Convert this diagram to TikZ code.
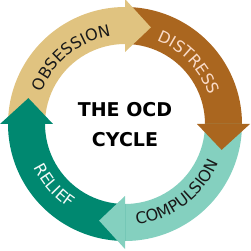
\documentclass[tikz,border=0pt]{standalone}
\usepackage{fontspec}
\setmainfont{DejaVu Sans}
\usetikzlibrary{decorations.text}
\definecolor{obscol}{HTML}{E0C380}
\definecolor{discol}{HTML}{AA661F}
\definecolor{comcol}{HTML}{84D0BF}
\definecolor{relcol}{HTML}{008870}
\definecolor{distxt}{HTML}{FADBC8}
\definecolor{reltxt}{HTML}{F2FAF7}
\begin{document}
\begin{tikzpicture}[x=1pt,y=1pt,
  centertext/.style={font=\fontsize{19}{19}\selectfont\bfseries,text=black,inner sep=0pt}]
\useasboundingbox (-125,-127) rectangle (125,124);
% bands
\fill[obscol] (180:117) arc[start angle=180,end angle=89.5,radius=117] -- (89.5:80) arc[start angle=89.5,end angle=180,radius=80] -- cycle;
\fill[discol] (90:117) arc[start angle=90,end angle=-0.5,radius=117] -- (-0.5:80) arc[start angle=-0.5,end angle=90,radius=80] -- cycle;
\fill[comcol] (0:117) arc[start angle=0,end angle=-90.5,radius=117] -- (-90.5:80) arc[start angle=-90.5,end angle=0,radius=80] -- cycle;
\fill[relcol] (-90:117) arc[start angle=-90,end angle=-180.5,radius=117] -- (-180.5:80) arc[start angle=-180.5,end angle=-90,radius=80] -- cycle;
% arrow heads
\fill[obscol] (90:72) -- (90:125) -- (75:100) -- cycle;
\fill[discol] (0:72) -- (0:125) -- (-15:100) -- cycle;
\fill[comcol] (-90:72) -- (-90:125) -- (-105:100) -- cycle;
\fill[relcol] (180:72) -- (180:125) -- (165:100) -- cycle;
% labels along the ring
\path[decorate,decoration={text along path,text align=center,
  text={|\fontsize{16}{16}\selectfont\color{black!90}|OBSESSION}}]
  (169:89) arc[start angle=169,end angle=89,radius=89];
\path[decorate,decoration={text along path,text align=center,
  text={|\fontsize{16}{16}\selectfont\color{distxt}|DISTRESS}}]
  (84:89) arc[start angle=84,end angle=4,radius=89];
\path[decorate,decoration={text along path,text align=center,
  text={|\fontsize{16}{16}\selectfont\color{black!90}|COMPULSION}}]
  (-93:101) arc[start angle=-93,end angle=-13,radius=101];
\path[decorate,decoration={text along path,text align=center,
  text={|\fontsize{16}{16}\selectfont\color{reltxt}|RELIEF}}]
  (181:101) arc[start angle=181,end angle=261,radius=101];
% centre
\node[centertext] (t1) at (0,14) {THE OCD};
\node[centertext] (t2) at (0,-15.5) {CYCLE};
\end{tikzpicture}
\end{document}
